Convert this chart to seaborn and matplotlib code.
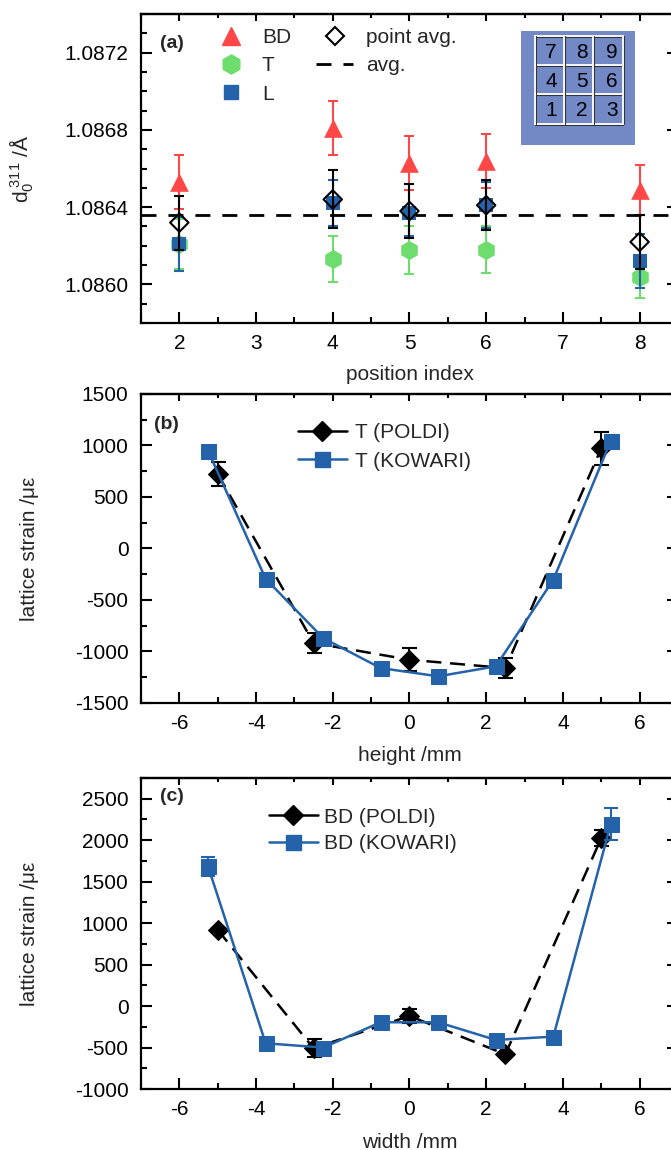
import numpy as np
import pandas as pd
import matplotlib
matplotlib.use('Agg')
import matplotlib.pyplot as plt
from matplotlib.lines import Line2D
from matplotlib.ticker import MultipleLocator, FormatStrFormatter
import seaborn as sns

sns.set_theme(style="ticks")
plt.rcParams['font.family'] = ['Liberation Sans', 'DejaVu Sans']
plt.rcParams['mathtext.fontset'] = 'custom'
plt.rcParams['mathtext.rm'] = 'Liberation Sans'
plt.rcParams['mathtext.it'] = 'Liberation Sans:italic'
plt.rcParams['axes.unicode_minus'] = False

# (a) stress-free lattice spacing per position
positions = [2, 4, 5, 6, 8]
d0_bd = [1.08653, 1.08681, 1.08663, 1.08664, 1.08649]
d0_bd_err = [0.00014, 0.00014, 0.00014, 0.00014, 0.00013]
d0_t = [1.08621, 1.08613, 1.08618, 1.08618, 1.08604]
d0_t_err = [0.00013, 0.00012, 0.000125, 0.00012, 0.00011]
d0_l = [1.08621, 1.08642, 1.08637, 1.08641, 1.08612]
d0_l_err = [0.00014, 0.00012, 0.00012, 0.00012, 0.00014]
d0_pavg = [1.08632, 1.08644, 1.08638, 1.08641, 1.08622]
d0_pavg_err = [0.00014, 0.00015, 0.00014, 0.00013, 0.00014]
d0_avg = 1.08636

# inset sketch labels
grid_labels = [['7', '8', '9'], ['4', '5', '6'], ['1', '2', '3']]

# (b) T strain along height
poldi_x = [-5, -2.5, 0, 2.5, 5]
poldi_t = [724, -918, -1080, -1161, 973]
poldi_t_err = [118, 95, 110, 100, 160]
kowari_x = [-5.25, -3.75, -2.25, -0.75, 0.75, 2.25, 3.75, 5.25]
kowari_t = [947, -294, -870, -1161, -1241, -1144, -304, 1047]
kowari_t_err = [10, 10, 10, 10, 10, 10, 10, 10]

# (c) BD strain along width
poldi_bd = [919, -509, -119, -581, 2025]
poldi_bd_err = [20, 110, 90, 20, 95]
kowari_bd = [1683, -448, -500, -195, -195, -408, -368, 2198]
kowari_bd_err = [120, 15, 15, 15, 15, 15, 15, 190]

RED = '#FF4747'
GREEN = '#6DDE6D'
BLUE = '#2462AA'
FS = 15


def style_axes(ax, xmaj, xmin, ymaj, ymin):
    ax.xaxis.set_major_locator(MultipleLocator(xmaj))
    ax.xaxis.set_minor_locator(MultipleLocator(xmin))
    ax.yaxis.set_major_locator(MultipleLocator(ymaj))
    ax.yaxis.set_minor_locator(MultipleLocator(ymin))
    ax.tick_params(which='both', direction='in', top=False, right=True,
                   width=1.5, color='black', labelsize=FS, labelcolor='black')
    ax.tick_params(which='major', length=8)
    ax.tick_params(which='minor', length=4.5)
    ax.tick_params(axis='x', pad=8)
    ax.tick_params(axis='y', pad=9)
    for s in ax.spines.values():
        s.set_linewidth(1.6)
        s.set_color('black')
    ax.set_facecolor('white')
    # shorter ticks along the top edge
    top = ax.secondary_xaxis('top')
    top.xaxis.set_major_locator(MultipleLocator(xmaj))
    top.xaxis.set_minor_locator(MultipleLocator(xmin))
    top.tick_params(which='both', direction='in', width=1.5, color='black',
                    labeltop=False)
    top.tick_params(which='major', length=5)
    top.tick_params(which='minor', length=3)
    top.spines['top'].set_linewidth(1.6)


fig = plt.figure(figsize=(6.71, 11.5), dpi=100)
ax_a = fig.add_axes([0.2101, 0.7191, 0.8003, 0.2687])
ax_b = fig.add_axes([0.2101, 0.3887, 0.8003, 0.2687])
ax_c = fig.add_axes([0.2101, 0.0530, 0.8003, 0.2705])

# ---- panel (a)
series = [
    (d0_t, d0_t_err, GREEN, 'h', 190, 3),
    (d0_l, d0_l_err, BLUE, 's', 110, 5),
    (d0_bd, d0_bd_err, RED, '^', 180, 7),
]
for vals, errs, col, mk, size, z in series:
    ax_a.errorbar(positions, vals, yerr=errs, fmt='none', ecolor=col,
                  elinewidth=1.5, capsize=3.3, capthick=1.5, zorder=z)
    sns.scatterplot(x=positions, y=vals, marker=mk, s=size, color=col,
                    edgecolor=col, linewidth=0, ax=ax_a, zorder=z + 0.5)
ax_a.errorbar(positions, d0_pavg, yerr=d0_pavg_err, fmt='none', ecolor='black',
              elinewidth=1.5, capsize=3.6, capthick=1.5, zorder=9)
sns.scatterplot(x=positions, y=d0_pavg, marker='D', s=88, facecolor='none',
                edgecolor='black', linewidth=1.5, ax=ax_a, zorder=10)
AVG_DASH = (0, (5.4, 4.3))
ax_a.axhline(d0_avg, color='black', lw=2, ls=AVG_DASH, zorder=2)

ax_a.set_xlim(1.5, 8.5)
ax_a.set_ylim(1.0858, 1.0874)
style_axes(ax_a, 1, 0.5, 0.0004, 0.0001)
ax_a.yaxis.set_major_formatter(FormatStrFormatter('%.4f'))
ax_a.set_xlabel('position index', fontsize=FS, va='top')
ax_a.set_ylabel(r'$\mathregular{d_0^{\ 311}}$ /Å', fontsize=FS)
ax_a.xaxis.set_label_coords(0.5, -0.135)
ax_a.yaxis.set_label_coords(-0.195, 0.5)
ax_a.text(0.035, 0.906, '(a)', transform=ax_a.transAxes, fontsize=14,
          fontweight='bold', va='center', ha='left')

h_a = [
    Line2D([], [], ls='none', marker='^', ms=13.4, color=RED),
    Line2D([], [], ls='none', marker='h', ms=13.8, color=GREEN),
    Line2D([], [], ls='none', marker='s', ms=10.5, color=BLUE),
    Line2D([], [], ls='none', marker='D', ms=9.4, mfc='none', mec='black', mew=1.5),
    Line2D([], [], color='black', lw=2, ls=AVG_DASH),
]
ax_a.legend(h_a, ['BD', 'T', 'L', 'point avg.', 'avg.'], ncol=2, frameon=False,
            fontsize=FS, loc='upper left', bbox_to_anchor=(0.132, 0.955),
            borderpad=0, borderaxespad=0, handlelength=1.8, handletextpad=0.6,
            columnspacing=1.2, labelspacing=0.45)

# inset sketch of the cube positions
ins = fig.add_axes([0.7765, 0.8739, 0.1699, 0.0991])
ins.set_facecolor('#7289C6')
ins.set_xlim(0, 114)
ins.set_ylim(114, 0)
ins.set_xticks([])
ins.set_yticks([])
for s in ins.spines.values():
    s.set_visible(False)
row_edges = [5, 34, 63, 93]
col_edges = [14, 43, 72, 102]
for yy in row_edges:
    ins.plot([col_edges[0], col_edges[-1]], [yy + 1, yy + 1], color='#333333', lw=0.8)
    ins.plot([col_edges[0], col_edges[-1]], [yy, yy], color='white', lw=1.3)
for xx in col_edges:
    ins.plot([xx + 1, xx + 1], [row_edges[0], row_edges[-1]], color='#333333', lw=0.8)
    ins.plot([xx, xx], [row_edges[0], row_edges[-1]], color='white', lw=1.3)
col_centres = [30, 61, 91]
row_centres = [21, 50, 79]
for r, row in enumerate(grid_labels):
    for c, lab in enumerate(row):
        ins.text(col_centres[c], row_centres[r], lab, fontsize=15, ha='center',
                 va='center', color='black')

# ---- panels (b) and (c)
DASH = (0, (6, 3.5))


def strain_panel(ax, p_y, p_err, k_y, k_err):
    ax.errorbar(poldi_x, p_y, yerr=p_err, fmt='none', ecolor='black',
                elinewidth=1.5, capsize=5.4, capthick=1.5, zorder=3)
    sns.lineplot(x=poldi_x, y=p_y, color='black', marker='D', markersize=9.7,
                 markeredgecolor='black', linewidth=1.8, linestyle=DASH,
                 ax=ax, zorder=4, legend=False)
    ax.errorbar(kowari_x, k_y, yerr=k_err, fmt='none', ecolor=BLUE,
                elinewidth=1.5, capsize=5, capthick=1.5, zorder=5)
    sns.lineplot(x=kowari_x, y=k_y, color=BLUE, marker='s', markersize=10.8,
                 markeredgecolor=BLUE, linewidth=1.8, ax=ax, zorder=6,
                 legend=False)
    ax.set_xlim(-7, 7)
    style_axes(ax, 2, 1, 500, 250)
    ax.set_ylabel('lattice strain /με', fontsize=FS)
    ax.yaxis.set_label_coords(-0.19, 0.5)
    handles = [
        Line2D([], [], color='black', lw=1.8, marker='D', ms=9.7),
        Line2D([], [], color=BLUE, lw=1.8, marker='s', ms=10.8),
    ]
    return handles


h_b = strain_panel(ax_b, poldi_t, poldi_t_err, kowari_t, kowari_t_err)
ax_b.set_ylim(-1500, 1500)
ax_b.set_xlabel('height /mm', fontsize=FS, va='top')
ax_b.xaxis.set_label_coords(0.5, -0.14)
ax_b.text(0.024, 0.9, '(b)', transform=ax_b.transAxes, fontsize=14,
          fontweight='bold', va='center', ha='left')
ax_b.legend(h_b, ['T (POLDI)', 'T (KOWARI)'], frameon=False, fontsize=FS,
            loc='upper left', bbox_to_anchor=(0.292, 0.905), borderpad=0,
            borderaxespad=0, handlelength=2.35, handletextpad=0.4,
            labelspacing=0.45)

h_c = strain_panel(ax_c, poldi_bd, poldi_bd_err, kowari_bd, kowari_bd_err)
ax_c.set_ylim(-1000, 2750)
ax_c.set_xlabel('width /mm', fontsize=FS, va='top')
ax_c.xaxis.set_label_coords(0.5, -0.141)
ax_c.text(0.035, 0.939, '(c)', transform=ax_c.transAxes, fontsize=14,
          fontweight='bold', va='center', ha='left')
ax_c.legend(h_c, ['BD (POLDI)', 'BD (KOWARI)'], frameon=False, fontsize=FS,
            loc='upper left', bbox_to_anchor=(0.238, 0.905), borderpad=0,
            borderaxespad=0, handlelength=2.35, handletextpad=0.3,
            labelspacing=0.35)

fig.savefig('out.png', dpi=100, facecolor='white')
